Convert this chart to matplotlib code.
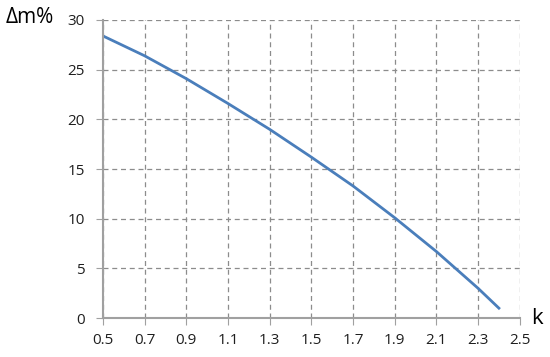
import numpy as np
import matplotlib.pyplot as plt

k = [0.5, 0.7, 0.9, 1.1, 1.3, 1.5, 1.7, 1.9, 2.1, 2.3, 2.4]
dm = [28.4, 26.4, 24.1, 21.6, 19.0, 16.2, 13.3, 10.1, 6.7, 3.0, 1.0]
xticks = [0.5, 0.7, 0.9, 1.1, 1.3, 1.5, 1.7, 1.9, 2.1, 2.3, 2.5]
yticks = [0, 5, 10, 15, 20, 25, 30]

plt.rcParams['font.family'] = ['Open Sans', 'DejaVu Sans']

fig = plt.figure(figsize=(5.5, 3.57), dpi=100)
ax = fig.add_axes([0.187, 0.109, 0.758, 0.835])

ax.plot(k, dm, color='#4a7ebb', linewidth=2)

ax.set_xlim(0.5, 2.5)
ax.set_ylim(0, 30)
ax.set_xticks(xticks)
ax.set_yticks(yticks)
ax.set_xticklabels([f"{t:.1f}" for t in xticks])
ax.grid(True, linestyle=(0, (4, 3)), color='#8c8c8c', linewidth=0.9)
ax.set_axisbelow(True)

for s in ['top', 'right']:
    ax.spines[s].set_visible(False)
for s in ['left', 'bottom']:
    ax.spines[s].set_color('#a0a0a0')
    ax.spines[s].set_linewidth(1.5)
    ax.spines[s].set_zorder(3)

ax.tick_params(axis='both', colors='#a0a0a0', length=5, labelsize=11,
               labelcolor='#1f1f1f')
ax.tick_params(axis='x', pad=6)
ax.tick_params(axis='y', pad=8)

fig.text(0.01, 0.952, 'Δm%', fontsize=15, va='center', ha='left')
fig.text(0.965, 0.109, 'k', fontsize=16, va='center', ha='left')

fig.savefig('out.png', dpi=100)
